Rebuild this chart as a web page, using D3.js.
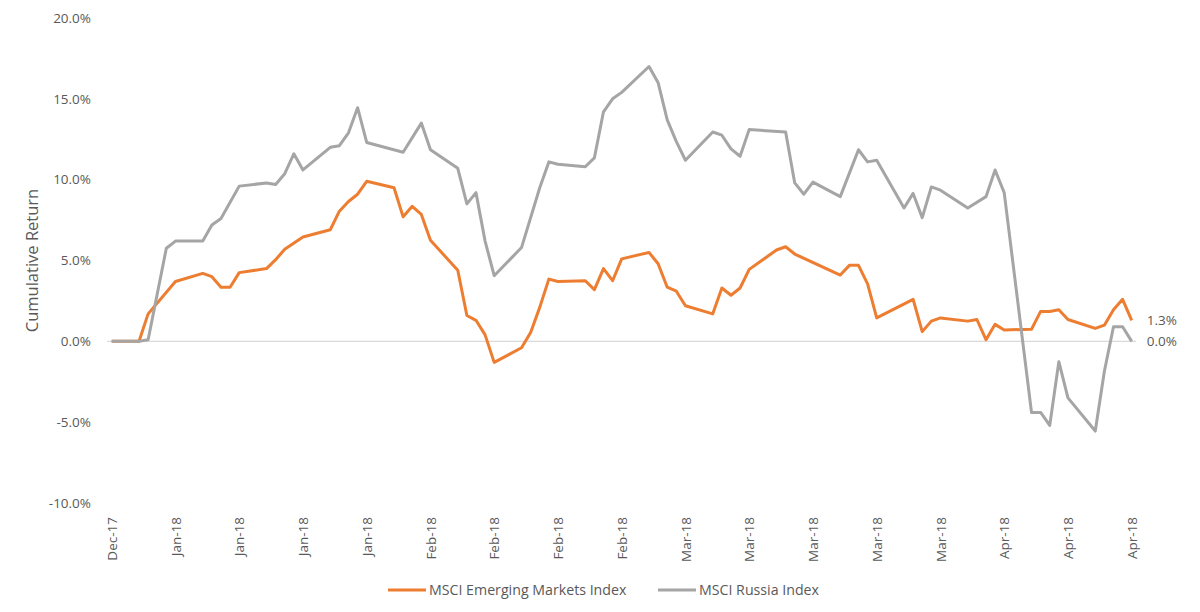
<!DOCTYPE html>
<html>
<head>
<meta charset="utf-8">
<script src="https://cdn.jsdelivr.net/npm/d3@7"></script>
<style>
  html, body { margin: 0; padding: 0; background: #fff; }
  svg { display: block; }
  text { font-family: "Open Sans", sans-serif; fill: #595959; }
</style>
</head>
<body>
<svg id="chart" width="1200" height="612"></svg>
<script>
// ---- Data (cumulative return, %) ----
const emDates = ["2017-12-29","2018-01-01","2018-01-02","2018-01-05","2018-01-08","2018-01-09","2018-01-10","2018-01-11","2018-01-12","2018-01-15","2018-01-16","2018-01-17","2018-01-19","2018-01-22","2018-01-23","2018-01-24","2018-01-25","2018-01-26","2018-01-29","2018-01-30","2018-01-31","2018-02-01","2018-02-02","2018-02-05","2018-02-06","2018-02-07","2018-02-08","2018-02-09","2018-02-12","2018-02-13","2018-02-14","2018-02-15","2018-02-16","2018-02-19","2018-02-20","2018-02-21","2018-02-22","2018-02-23","2018-02-26","2018-02-27","2018-02-28","2018-03-01","2018-03-02","2018-03-05","2018-03-06","2018-03-07","2018-03-08","2018-03-09","2018-03-12","2018-03-13","2018-03-14","2018-03-19","2018-03-20","2018-03-21","2018-03-22","2018-03-23","2018-03-27","2018-03-28","2018-03-29","2018-03-30","2018-04-02","2018-04-03","2018-04-04","2018-04-05","2018-04-06","2018-04-09","2018-04-10","2018-04-11","2018-04-12","2018-04-13","2018-04-16","2018-04-17","2018-04-18","2018-04-19","2018-04-20"];
const emValues = [0,0,1.7,3.7,4.2,4.0,3.35,3.35,4.25,4.5,5.05,5.7,6.45,6.9,8.05,8.65,9.1,9.9,9.5,7.7,8.35,7.85,6.25,4.4,1.6,1.3,0.4,-1.3,-0.4,0.55,2.1,3.85,3.7,3.75,3.2,4.5,3.75,5.1,5.5,4.8,3.35,3.1,2.2,1.7,3.3,2.85,3.3,4.45,5.65,5.85,5.4,4.1,4.7,4.7,3.55,1.45,2.6,0.6,1.25,1.45,1.25,1.35,0.1,1.05,0.7,0.75,1.85,1.85,1.95,1.35,0.8,1.0,1.95,2.6,1.3];

const ruDates = ["2017-12-29","2018-01-01","2018-01-02","2018-01-04","2018-01-05","2018-01-08","2018-01-09","2018-01-10","2018-01-12","2018-01-15","2018-01-16","2018-01-17","2018-01-18","2018-01-19","2018-01-22","2018-01-23","2018-01-24","2018-01-25","2018-01-26","2018-01-30","2018-02-01","2018-02-02","2018-02-05","2018-02-06","2018-02-07","2018-02-08","2018-02-09","2018-02-12","2018-02-14","2018-02-15","2018-02-16","2018-02-19","2018-02-20","2018-02-21","2018-02-22","2018-02-23","2018-02-26","2018-02-27","2018-02-28","2018-03-01","2018-03-02","2018-03-05","2018-03-06","2018-03-07","2018-03-08","2018-03-09","2018-03-13","2018-03-14","2018-03-15","2018-03-16","2018-03-19","2018-03-21","2018-03-22","2018-03-23","2018-03-26","2018-03-27","2018-03-28","2018-03-29","2018-03-30","2018-04-02","2018-04-04","2018-04-05","2018-04-06","2018-04-09","2018-04-10","2018-04-11","2018-04-12","2018-04-13","2018-04-16","2018-04-17","2018-04-18","2018-04-19","2018-04-20"];
const ruValues = [0,0,0.1,5.76,6.2,6.2,7.2,7.6,9.6,9.8,9.7,10.37,11.6,10.6,12.0,12.1,12.9,14.45,12.3,11.7,13.5,11.85,10.7,8.5,9.2,6.2,4.06,5.8,9.5,11.1,10.95,10.8,11.35,14.2,15.0,15.4,17.0,16.0,13.7,12.35,11.2,12.95,12.75,11.9,11.45,13.1,12.95,9.8,9.1,9.85,8.95,11.85,11.1,11.2,8.25,9.15,7.65,9.55,9.35,8.25,8.95,10.6,9.2,-4.4,-4.4,-5.2,-1.26,-3.5,-5.55,-1.85,0.9,0.9,0.0];

const xTickDates = ["2017-12-29","2018-01-05","2018-01-12","2018-01-19","2018-01-26","2018-02-02","2018-02-09","2018-02-16","2018-02-23","2018-03-02","2018-03-09","2018-03-16","2018-03-23","2018-03-30","2018-04-06","2018-04-13","2018-04-20"];
const yTicks = [-10, -5, 0, 5, 10, 15, 20];
const seriesNames = ["MSCI Emerging Markets Index", "MSCI Russia Index"];
const seriesColors = ["#ED7D31", "#A5A5A5"];

// ---- Build ----
const parse = d3.timeParse("%Y-%m-%d");
const em = emDates.map((d, i) => ({ date: parse(d), v: emValues[i] }));
const ru = ruDates.map((d, i) => ({ date: parse(d), v: ruValues[i] }));
const tickDates = xTickDates.map(parse);

const svg = d3.select("#chart");
const x = d3.scaleTime()
  .domain([parse("2017-12-29"), parse("2018-04-20")])
  .range([111.7, 1131.7]);
const y = d3.scaleLinear().domain([-10, 20]).range([503, 18]);

const halfDay = (x(parse("2018-01-01")) - x(parse("2017-12-31"))) / 2;
const FONT = "\"Open Sans\", sans-serif";
const TICK_SIZE = "13.5px";

// zero line
svg.append("line")
  .attr("x1", x.range()[0] - halfDay).attr("x2", x.range()[1] + halfDay)
  .attr("y1", y(0)).attr("y2", y(0))
  .attr("stroke", "#d9d9d9").attr("stroke-width", 1.3);

// y axis
const yAxis = svg.append("g")
  .attr("transform", "translate(91,0)")
  .call(d3.axisLeft(y).tickValues(yTicks).tickSize(0).tickPadding(0)
    .tickFormat(d => d.toFixed(1) + "%"));
yAxis.select(".domain").remove();
yAxis.selectAll("text").style("font-size", TICK_SIZE).style("font-family", FONT).attr("fill", "#595959");

// y title
svg.append("text")
  .attr("transform", `translate(32,${(y(20) + y(-10)) / 2}) rotate(-90)`)
  .attr("text-anchor", "middle")
  .attr("dy", "0.35em")
  .style("font-size", "16.5px")
  .text("Cumulative Return");

// x axis
const xAxis = svg.append("g")
  .attr("transform", "translate(0,514)")
  .call(d3.axisBottom(x).tickValues(tickDates).tickSize(0).tickPadding(0)
    .tickFormat(d3.timeFormat("%b-%y")));
xAxis.select(".domain").remove();
xAxis.selectAll("text")
  .style("font-size", TICK_SIZE).style("font-family", FONT).attr("fill", "#595959")
  .attr("text-anchor", "end")
  .attr("transform", "rotate(-90)")
  .attr("x", -3).attr("y", 0).attr("dy", "0.35em");

// lines
const line = d3.line().x(d => x(d.date)).y(d => y(d.v));
[em, ru].forEach((s, i) => {
  svg.append("path")
    .datum(s)
    .attr("fill", "none")
    .attr("stroke", seriesColors[i])
    .attr("stroke-width", 3)
    .attr("stroke-linejoin", "round")
    .attr("d", line);
});

// end labels
[em, ru].forEach(s => {
  const last = s[s.length - 1];
  svg.append("text")
    .attr("x", x(last.date) + 15)
    .attr("y", y(last.v))
    .attr("dy", "0.35em")
    .style("font-size", TICK_SIZE)
    .text(last.v.toFixed(1) + "%");
});

// legend
const legend = svg.append("g").attr("transform", "translate(0,590)");
const legendX = [388, 658];
seriesNames.forEach((n, i) => {
  legend.append("line")
    .attr("x1", legendX[i]).attr("x2", legendX[i] + 38)
    .attr("y1", 0).attr("y2", 0)
    .attr("stroke", seriesColors[i]).attr("stroke-width", 3);
  legend.append("text")
    .attr("x", legendX[i] + 41).attr("y", 0).attr("dy", "0.35em")
    .style("font-size", "14.2px")
    .text(n);
});
</script>
</body>
</html>
